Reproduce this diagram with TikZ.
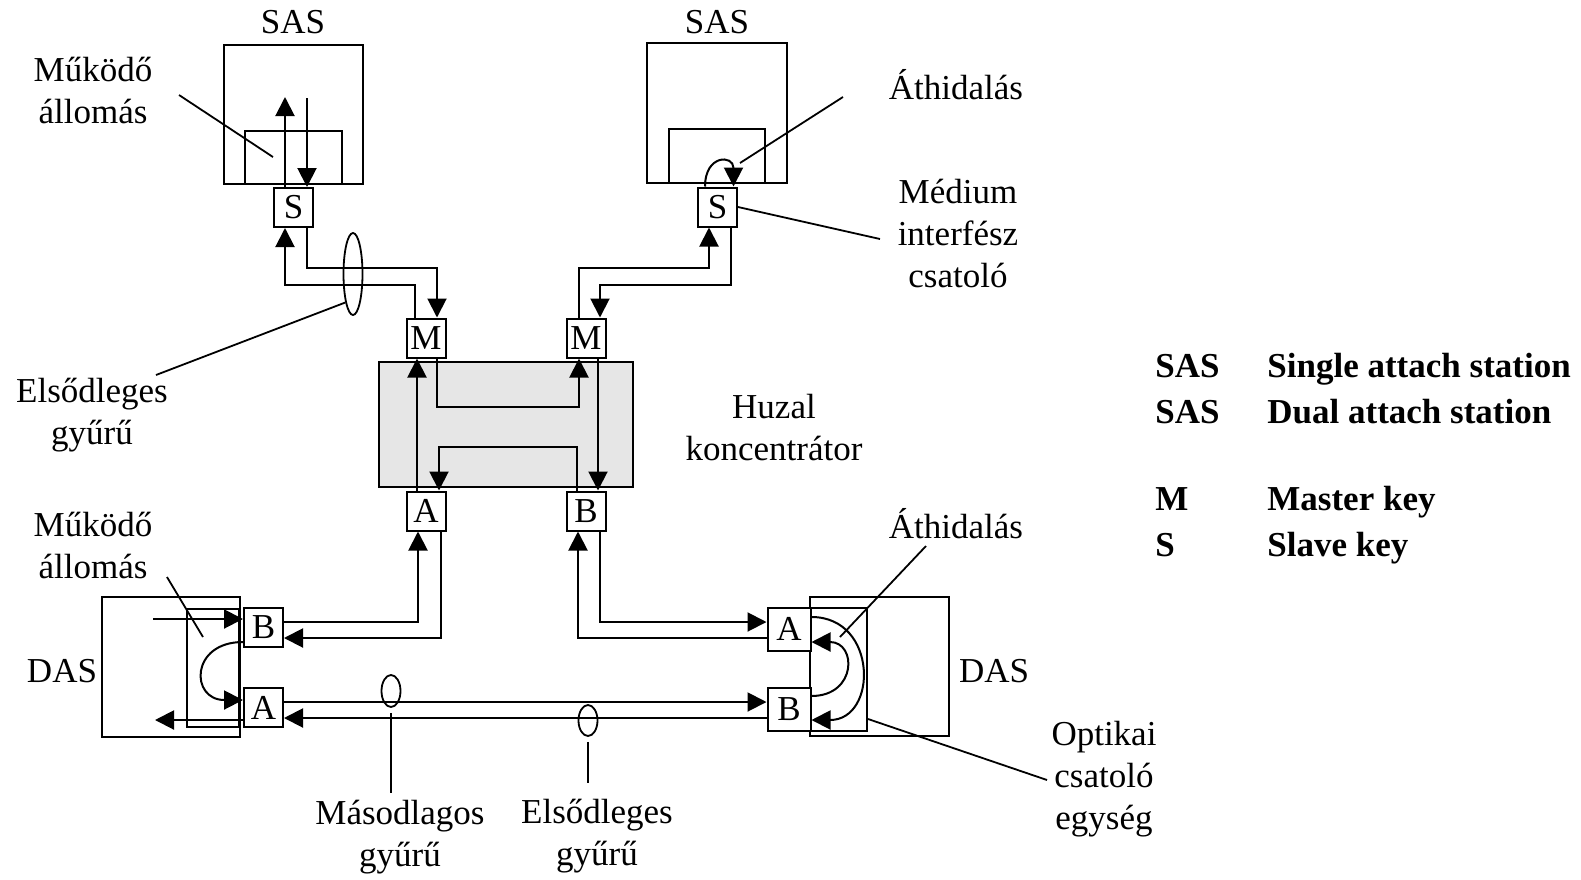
\documentclass[tikz,border=0pt]{standalone}
\usepackage{fontspec}
\setmainfont{Liberation Serif}
\usetikzlibrary{arrows.meta,shapes.geometric}
\definecolor{hubfill}{HTML}{E6E6E6}
\begin{document}
\begin{tikzpicture}[x=0.5pt,y=-0.5pt,
  keybox/.style={draw,line width=1pt,inner sep=0pt,minimum size=19.5pt,font=\fontsize{17.5}{21}\selectfont},
  bigkey/.style={keybox,minimum size=21.5pt},
  frame/.style={draw,line width=1pt,inner sep=0pt},
  wire/.style={line width=1pt,-{Triangle[length=9.5pt,width=9.5pt]}},
  lead/.style={line width=0.9pt},
  ring/.style={draw,line width=0.9pt,ellipse,inner sep=0pt},
  lbl/.style={font=\fontsize{17.5}{21}\selectfont,align=center,inner sep=0pt},
  leg/.style={font=\fontsize{17.5}{21}\selectfont\bfseries,anchor=base west,inner sep=0pt}
]
\useasboundingbox (0,0) rectangle (1581,879);

% ---------- left SAS ----------
\node[frame,minimum width=69.5pt,minimum height=69.5pt] (sasL) at (293.5,114.5) {};
\node[frame,minimum width=48.5pt,minimum height=26.5pt] (stL) at (293.5,157.5) {};
\node[keybox] (S1) at (293.5,207.5) {S};
\node[lbl] (tSASL) at (293,22) {SAS};

% ---------- right SAS ----------
\node[frame,minimum width=70pt,minimum height=70pt] (sasR) at (717,113) {};
\node[frame,minimum width=48pt,minimum height=27pt] (stR) at (717,156) {};
\node[keybox] (S2) at (717.5,207) {S};
\node[lbl] (tSASR) at (717,22) {SAS};

% ---------- concentrator ----------
\node[frame,fill=hubfill,minimum width=127pt,minimum height=62.5pt] (hub) at (506,424.5) {};
\node[keybox] (M1) at (426,338) {M};
\node[keybox] (M2) at (586,338) {M};
\node[keybox] (A1) at (426,511) {A};
\node[keybox] (B1) at (586,511) {B};

% ---------- left DAS ----------
\node[frame,minimum width=69pt,minimum height=70pt] (dasL) at (171,667) {};
\node[frame,minimum width=26pt,minimum height=59pt] (ocL) at (213,668) {};
\node[keybox] (LB) at (263.5,627.5) {B};
\node[keybox] (LA) at (263.5,707.5) {A};

% ---------- right DAS ----------
\node[frame,minimum width=69.5pt,minimum height=69.5pt] (dasR) at (879.5,666.5) {};
\node[frame,minimum width=28.5pt,minimum height=61.5pt] (ocR) at (838.5,669.5) {};
\node[bigkey,fill=white] (RA) at (789,629) {A};
\node[bigkey,fill=white] (RB) at (789,709.5) {B};

% ---------- rings (ellipses) ----------
\node[ring,minimum width=9.5pt,minimum height=41pt] (E1) at (353,274) {};
\node[ring,minimum width=9.5pt,minimum height=16pt] (E2) at (391,691) {};
\node[ring,minimum width=9.5pt,minimum height=15.5pt] (E3) at (588,720.5) {};

% ---------- level coordinates ----------
\coordinate (y1) at (0,622);
\coordinate (y2) at (0,638);
\coordinate (r1) at (0,702);
\coordinate (r2) at (0,718);

% ---------- wires: left SAS ----------
\draw[wire] ([xshift=-4.25pt]S1.north) -- ++(0,-90);
\draw[wire] (307,98) -- ([xshift=6.75pt]S1.north);
\draw[wire] ([xshift=-5.5pt]M1.north) |- (285,285) -- ([xshift=-4.25pt]S1.south);
\draw[wire] ([xshift=6.75pt]S1.south) |- (437,268) -- ([xshift=5.5pt]M1.north);

% ---------- wires: right SAS ----------
\draw[wire] ([xshift=-3.5pt]M2.north) |- (709,268) -- ([xshift=-4.25pt]S2.south);
\draw[wire] ([xshift=6.75pt]S2.south) |- (600,285) -- ([xshift=7pt]M2.north);
\draw[wire] ([xshift=-6.25pt]S2.north) .. controls +(0,-32) and +(0,-32) .. ([xshift=8pt]S2.north);

% ---------- wires: concentrator ----------
\draw[wire] ([xshift=-4.5pt]A1.north) -- ([xshift=-4.5pt]M1.south);
\draw[wire] ([xshift=5.5pt]M1.south) |- (579,407) -- ([xshift=-3.5pt]M2.south);
\draw[wire] ([xshift=6pt]M2.south) -- ([xshift=6pt]B1.north);
\draw[wire] ([xshift=-4.5pt]B1.north) |- (439,447) -- ([xshift=6.5pt]A1.north);

% ---------- wires: lower part ----------
\draw[wire] (LB.east |- y1) -| ([xshift=-4pt]A1.south);
\draw[wire] ([xshift=7.5pt]A1.south) |- (LB.east |- y2);
\draw[wire] (RA.west |- y2) -| ([xshift=-4pt]B1.south);
\draw[wire] ([xshift=7pt]B1.south) |- (RA.west |- y1);
\draw[wire] (LA.east |- r1) -- (RB.west |- r1);
\draw[wire] (RB.west |- r2) -- (LA.east |- r2);

% left DAS internals
\draw[wire] (153,619) -- ([yshift=4.25pt]LB.west);
\draw[wire] ([yshift=-7.25pt]LB.west) .. controls (190,642) and (190,700) .. ([yshift=3.75pt]LA.west);
\draw[wire] ([yshift=-6.25pt]LA.west) -- (155,720);

% right DAS internals
\draw[wire] ([yshift=6.75pt]RB.east) .. controls (857,696) and (857,642) .. ([yshift=-6.5pt]RA.east);
\draw[wire] ([yshift=6pt]RA.east) .. controls (878,617) and (878,720) .. ([yshift=-5.25pt]RB.east);

% ---------- leader lines ----------
\draw[lead] (179,95) -- (273,157);
\draw[lead] (843,97) -- (740,163);
\draw[lead] (S2.east) -- (880,239);
\draw[lead] (E1.255) -- (156,375);
\draw[lead] (167,577) -- (203,637);
\draw[lead] (926,546) -- (840,637);
\draw[lead] ([yshift=6.5pt]ocR.south east) -- (1047,780);
\draw[lead] ([yshift=-2.5pt]E2.south) -- ++(0,80);
\draw[lead] ([yshift=-2.5pt]E3.south) -- ++(0,41);

% ---------- labels ----------
\node[lbl] (tMuk1) at (93,90) {Működő\\állomás};
\node[lbl] (tAth1) at (956,85) {Áthidalás};
\node[lbl] (tMed) at (958,233) {Médium\\interfész\\csatoló};
\node[lbl] (tElso1) at (92,415) {Elsődleges\\gyűrű};
\node[lbl] (tHuz) at (774,427.5) {Huzal\\koncentrátor};
\node[lbl] (tMuk2) at (93,545) {Működő\\állomás};
\node[lbl] (tDASL) at (62,671) {DAS};
\node[lbl] (tDASR) at (994,671) {DAS};
\node[lbl] (tAth2) at (956,524) {Áthidalás};
\node[lbl] (tOpt) at (1104,779) {Optikai\\csatoló\\egység};
\node[lbl] (tMas) at (400,837) {Másodlagos\\gyűrű};
\node[lbl] (tElso2) at (597,836) {Elsődleges\\gyűrű};

% ---------- legend ----------
\node[leg] (g1a) at (1155,377) {SAS};
\node[leg] (g1b) at (1267,377) {Single attach station};
\node[leg] (g2a) at (1155,423) {SAS};
\node[leg] (g2b) at (1267,423) {Dual attach station};
\node[leg] (g3a) at (1155,510) {M};
\node[leg] (g3b) at (1267,510) {Master key};
\node[leg] (g4a) at (1155,556) {S};
\node[leg] (g4b) at (1267,556) {Slave key};
\end{tikzpicture}
\end{document}
